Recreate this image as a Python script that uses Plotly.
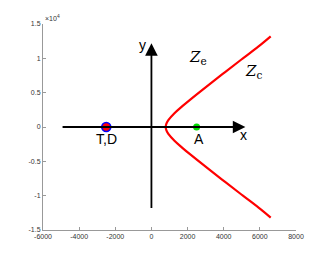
import plotly.graph_objects as go

# Hyperbola branch
curve_x = [6600, 6052, 5062, 4077, 3102, 2150, 1695, 1274, 935, 829, 790,
           829, 935, 1274, 1695, 2150, 3102, 4077, 5062, 6052, 6600]
curve_y = [-13200, -12000, -10000, -8000, -6000, -4000, -3000, -2000, -1000, -500, 0,
           500, 1000, 2000, 3000, 4000, 6000, 8000, 10000, 12000, 13200]

# Points
td_x, td_y = [-2500], [0]
a_x, a_y = [2500], [0]

# Coordinate arrows (tail, head)
xarrow_tail = (-5000, 0)
xarrow_head = (5200, 0)
yarrow_tail = (0, -12000)
yarrow_head = (0, 12200)

# Text labels
labels_text = ["x", "y", "T,D", "A"]
labels_x = [5100, -480, -2470, 2640]
labels_y = [-1200, 11900, -1800, -1800]
zone_text = ["<i>Z</i><sub>e</sub>", "<i>Z</i><sub>c</sub>"]
zone_x = [2600, 5650]
zone_y = [10100, 8100]

# Ticks
x_ticks = [-6000, -4000, -2000, 0, 2000, 4000, 6000, 8000]
y_ticks = [-15000, -10000, -5000, 0, 5000, 10000, 15000]
y_ticktext = ["-1.5", "-1", "-0.5", "0", "0.5", "1", "1.5"]

fig = go.Figure()
fig.add_trace(go.Scatter(x=curve_x, y=curve_y, mode="lines",
                         line=dict(color="#ff0000", width=2.2, shape="spline"),
                         hoverinfo="skip"))
fig.add_trace(go.Scatter(x=td_x, y=td_y, mode="markers",
                         marker=dict(size=9, color="#ff0000",
                                     line=dict(color="#0000ff", width=1.6))))
fig.add_trace(go.Scatter(x=a_x, y=a_y, mode="markers",
                         marker=dict(size=7, color="#00dd00", line=dict(width=0))))

annotations = []
for tail, head in [(xarrow_tail, xarrow_head), (yarrow_tail, yarrow_head)]:
    annotations.append(dict(x=head[0], y=head[1], ax=tail[0], ay=tail[1],
                            xref="x", yref="y", axref="x", ayref="y",
                            text="", showarrow=True, arrowhead=2,
                            arrowsize=1.4, arrowwidth=1.8, arrowcolor="black",
                            standoff=0, startstandoff=0))
for t, xx, yy in zip(labels_text, labels_x, labels_y):
    annotations.append(dict(x=xx, y=yy, xref="x", yref="y", text=t, showarrow=False,
                            font=dict(family="Liberation Sans, Arial", size=14, color="black")))
for t, xx, yy in zip(zone_text, zone_x, zone_y):
    annotations.append(dict(x=xx, y=yy, xref="x", yref="y", text=t, showarrow=False,
                            font=dict(family="DejaVu Serif, Liberation Serif", size=15, color="black")))
annotations.append(dict(x=0.0, y=1.0, xref="paper", yref="paper", xanchor="left",
                        yanchor="bottom", text="×10<sup>4</sup>", showarrow=False,
                        font=dict(family="Liberation Sans, Arial", size=7, color="#333")))

# The page body has an 8px margin, so the figure is sized/offset to compensate.
fig.update_layout(
    width=319, height=252,
    margin=dict(l=35, r=31, t=12, b=30),
    paper_bgcolor="white", plot_bgcolor="white",
    showlegend=False,
    annotations=annotations,
    xaxis=dict(range=[-6000, 8000], tickvals=x_ticks, ticktext=[str(v) for v in x_ticks],
               showgrid=False, zeroline=False, showline=True, linecolor="#999",
               linewidth=1, ticks="inside", ticklen=3, tickcolor="#999",
               tickfont=dict(family="Liberation Sans, Arial", size=7, color="#333")),
    yaxis=dict(range=[-15000, 15000], tickvals=y_ticks, ticktext=y_ticktext,
               showgrid=False, zeroline=False, showline=True, linecolor="#999",
               linewidth=1, ticks="inside", ticklen=3, tickcolor="#999",
               tickfont=dict(family="Liberation Sans, Arial", size=7, color="#333")),
)

fig.write_html("out.html")
